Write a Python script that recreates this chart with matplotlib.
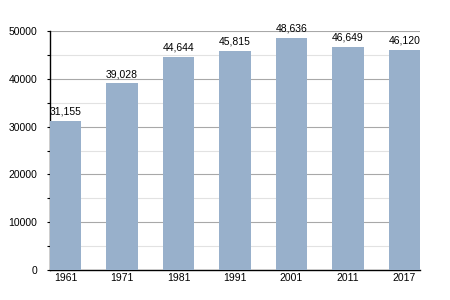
import matplotlib
matplotlib.use("Agg")
import matplotlib.pyplot as plt
from matplotlib.ticker import MultipleLocator

years = ["1961", "1971", "1981", "1991", "2001", "2011", "2017"]
population = [31155, 39028, 44644, 45815, 48636, 46649, 46120]

plt.rcParams['font.family'] = ['Liberation Sans', 'DejaVu Sans']
fig = plt.figure(figsize=(4.5, 3), dpi=100)
ax = fig.add_axes([50/450, 30/300, 370/450, 239/300])

w = 0.55
x = list(range(len(years)))
ax.bar(x, population, width=w, color="#98b0cb", zorder=3)
for xi, v in zip(x, population):
    ax.text(xi, v + 900, f"{v:,}", ha="center", va="bottom", fontsize=7.5, zorder=4)

ax.set_xlim(-w/2, len(years) - 1 + w/2)
ax.set_ylim(0, 50000)
ax.set_xticks(x)
ax.set_xticklabels(years, fontsize=7.5)
ax.yaxis.set_major_locator(MultipleLocator(10000))
ax.yaxis.set_minor_locator(MultipleLocator(5000))
ax.tick_params(axis='y', which='major', labelsize=7.5, length=2.2, width=0.8, pad=7)
ax.tick_params(axis='y', which='minor', length=2.2, width=0.8)
ax.tick_params(axis='x', length=0, pad=2)
ax.grid(axis='y', which='major', color="#a8a8a8", linewidth=0.8, zorder=0)
ax.grid(axis='y', which='minor', color="#e2e2e2", linewidth=0.8, zorder=0)
for s in ["top", "right"]:
    ax.spines[s].set_visible(False)
ax.spines["left"].set_linewidth(1.0)
ax.spines["bottom"].set_linewidth(1.0)
ax.set_axisbelow(True)

fig.savefig("out.png", dpi=100)
